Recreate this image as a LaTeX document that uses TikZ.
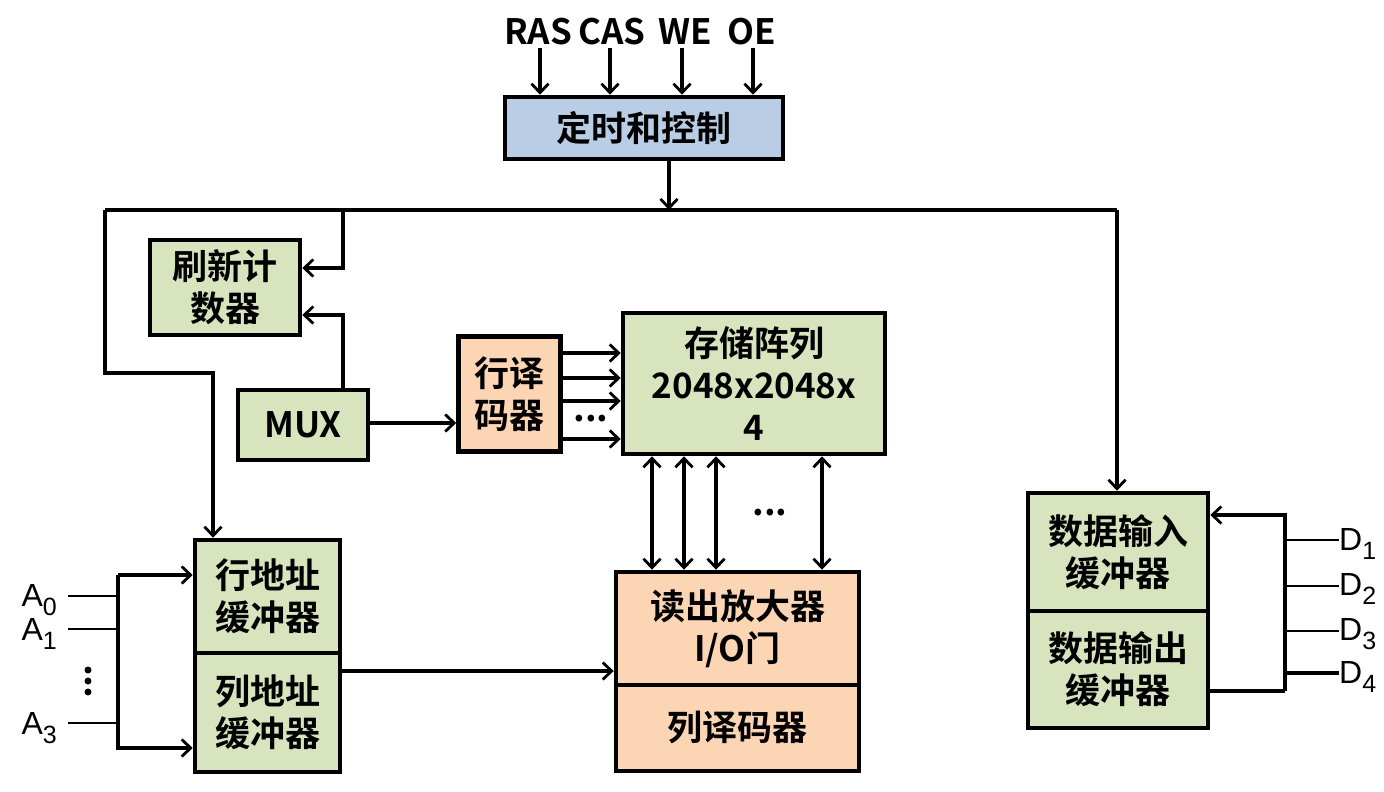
\documentclass[tikz,border=0pt]{standalone}
\usepackage{fontspec}
\setmainfont{Noto Sans CJK SC}[BoldFont={Noto Sans CJK SC Bold}]
\newfontfamily\arialfont{Liberation Sans}
\usetikzlibrary{arrows.meta}
\definecolor{boxgreen}{HTML}{D7E4BD}
\definecolor{boxpeach}{HTML}{FCD5B5}
\definecolor{boxblue}{HTML}{B9CDE5}
\newcommand{\pinsub}[2]{#1\raisebox{-0.3em}{\fontsize{25}{25}\selectfont #2}}
\begin{document}
\begin{tikzpicture}[x=1pt, y=-1pt,
  box/.style={draw, line width=4.5pt, rectangle, inner sep=0pt, align=center,
    font=\fontsize{35}{42}\selectfont\bfseries},
  greenbox/.style={box, fill=boxgreen},
  peachbox/.style={box, fill=boxpeach},
  bluebox/.style={box, fill=boxblue},
  sig/.style={inner sep=0pt, font=\fontsize{35}{40}\selectfont\bfseries},
  pin/.style={inner sep=0pt, font=\arialfont\fontsize{32}{32}\selectfont},
  ln/.style={line width=3.4pt},
  thinln/.style={line width=2.4pt},
  arr/.style={ln, -{Straight Barb[length=9pt,width=17pt,line width=2.8pt]}},
  darr/.style={ln, {Straight Barb[length=9pt,width=17pt,line width=2.8pt]}-{Straight Barb[length=9pt,width=17pt,line width=2.8pt]}},
  dots/.style={inner sep=0pt, font=\fontsize{36}{36}\selectfont\bfseries}]
\useasboundingbox (0,0) rectangle (1384,792);
% blocks
\node[bluebox, minimum width=278pt, minimum height=62pt] (ctrl) at (644,128) {定时和控制};
\node[greenbox, minimum width=150pt, minimum height=95pt] (refresh) at (225,287.5) {刷新计\\数器};
\node[greenbox, minimum width=130pt, minimum height=70pt] (mux) at (303,425) {MUX};
\node[peachbox, minimum width=102pt, minimum height=115pt] (rowdec) at (509.5,394) {行译\\码器};
\node[greenbox, minimum width=262pt, minimum height=141pt] (array) at (754,383.5) {存储阵列\\2048x2048x\\4};
\node[peachbox, minimum width=243pt, minimum height=113pt] (sense) at (737.5,628.5) {读出放大器\\I/O门};
\node[peachbox, minimum width=243pt, minimum height=86pt] (coldec) at (737.5,728) {列译码器};
\node[greenbox, minimum width=145pt, minimum height=113pt] (rowbuf) at (267.5,596.5) {行地址\\缓冲器};
\node[greenbox, minimum width=145pt, minimum height=119pt] (colbuf) at (267.5,712.5) {列地址\\缓冲器};
\node[greenbox, minimum width=180pt, minimum height=118pt] (din) at (1118,552) {数据输入\\缓冲器};
\node[greenbox, minimum width=180pt, minimum height=117pt] (dout) at (1118,669.5) {数据输出\\缓冲器};
% control signals
\node[sig] (ras) at (538,32) {RAS};
\node[sig] (cas) at (612,32) {CAS};
\node[sig] (we) at (685,32) {WE};
\node[sig] (oe) at (752,32) {OE};
\foreach \s/\x in {ras/540,cas/610,we/682,oe/753}
  \draw[arr] (\x,48) -- (\x,0 |- ctrl.north);
% control bus
\coordinate (tap) at (669,210);
\coordinate (busl) at (105,210);
\coordinate (busr) at (1117,210);
\coordinate (busk) at (105,373);
\coordinate (refk) at (343,210);
\draw[arr] (tap |- ctrl.south) -- (tap);
\draw[ln] (busl) -- (busr);
\draw[arr] (busl) -- (busk) -| (rowbuf.north -| 213,0);
\draw[arr] (busr) -- (busr |- din.north);
\draw[arr] (refk) |- (refresh.east |- 0,268);
\draw[arr] (mux.north -| 343,0) |- (refresh.east |- 0,315);
% row path
\draw[arr] (mux.east |- 0,423) -- (rowdec.west |- 0,423);
\foreach \y in {353,378,401,439}
  \draw[arr] (rowdec.east |- 0,\y) -- (array.west |- 0,\y);
\node[dots] (rdots) at (591,419) {...};
% bit lines
\foreach \x in {652,684,716,822}
  \draw[darr] (array.south -| \x,0) -- (sense.north -| \x,0);
\node[dots] (bdots) at (770,513) {...};
\draw[arr] (colbuf.east |- 0,671) -- (sense.west |- 0,671);
% address inputs
\coordinate (abt) at (118,575);
\coordinate (abb) at (118,748);
\draw[arr] (abt) -- (rowbuf.west |- abt);
\draw[arr] (abt) -- (abb) -- (colbuf.west |- abb);
\node[pin, anchor=east] (a0) at (57,600) {\pinsub{A}{0}};
\node[pin, anchor=east] (a1) at (57,634) {\pinsub{A}{1}};
\node[pin, anchor=east] (a3) at (57,728) {\pinsub{A}{3}};
\draw[thinln] (68,596) -- (abt |- 0,596);
\draw[thinln] (68,629) -- (abt |- 0,629);
\draw[thinln] (68,723) -- (abt |- 0,723);
\foreach \y in {670,681,692}
  \fill (88,\y) circle (3.5pt);
% data pins
\coordinate (dbt) at (1285,515);
\coordinate (dbb) at (1285,691);
\draw[arr] (dbb) -- (dbt) -- (din.east |- dbt);
\draw[ln] (dbb) -- (dout.east |- dbb);
\node[pin, anchor=west] (d1) at (1339,544) {\pinsub{D}{1}};
\node[pin, anchor=west] (d2) at (1339,589) {\pinsub{D}{2}};
\node[pin, anchor=west] (d3) at (1339,634) {\pinsub{D}{3}};
\node[pin, anchor=west] (d4) at (1339,677) {\pinsub{D}{4}};
\draw[thinln] (dbt |- 0,540) -- (d1.west |- 0,540);
\draw[thinln] (dbt |- 0,586) -- (d2.west |- 0,586);
\draw[thinln] (dbt |- 0,631) -- (d3.west |- 0,631);
\draw[ln] (dbt |- 0,673) -- (d4.west |- 0,673);
\end{tikzpicture}
\end{document}
